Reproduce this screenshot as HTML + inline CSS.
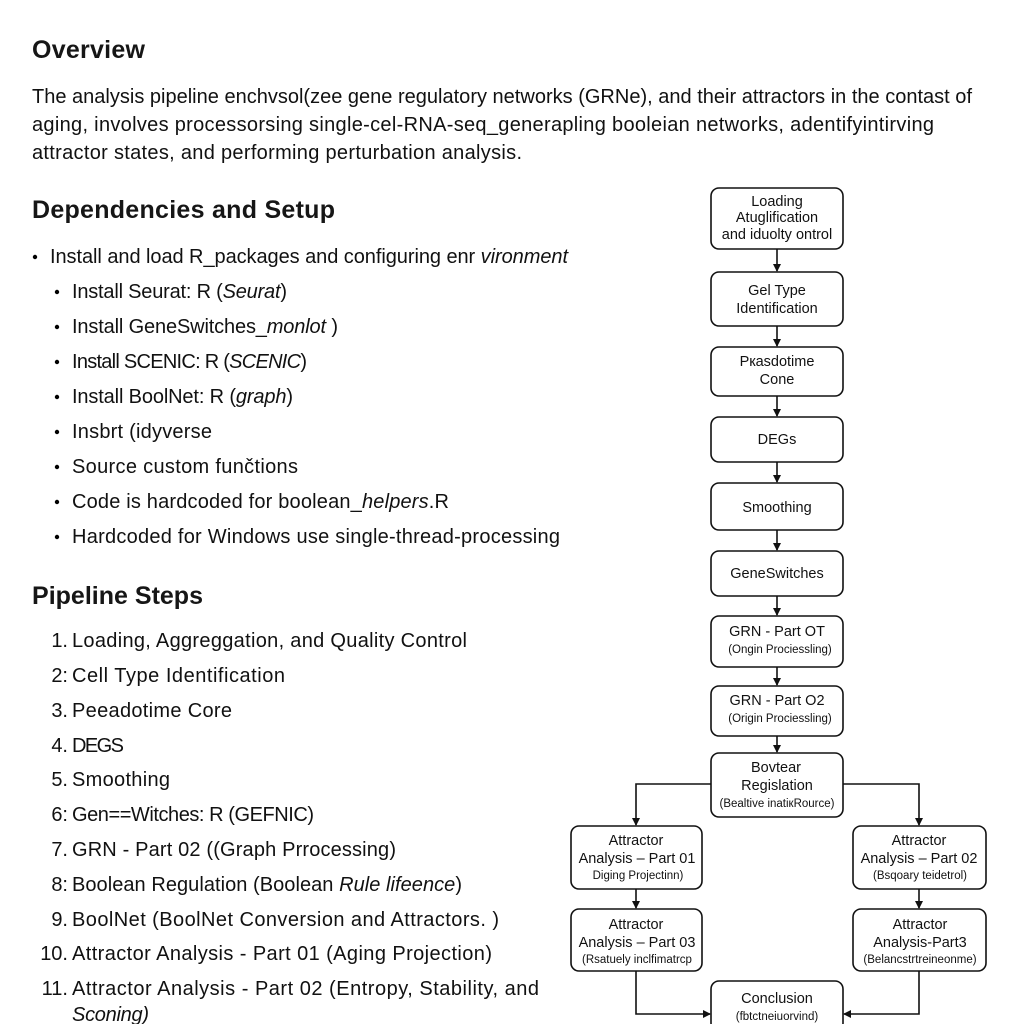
<!DOCTYPE html>
<html><head><meta charset="utf-8"><style>
html,body{margin:0;padding:0;background:#fff;}
svg{display:block;}
text{font-family:"Liberation Sans",sans-serif;fill:#111;}
.h{font-size:25px;font-weight:bold;fill:#161616;}
.b{font-size:20px;}
.n{font-size:14.5px;text-anchor:middle;}
.s{font-size:11.5px;text-anchor:middle;}
rect{fill:#fff;stroke:#111;stroke-width:1.6;}
.l{fill:none;stroke:#111;stroke-width:1.6;}
</style></head><body>
<svg width="1024" height="1024" viewBox="0 0 1024 1024" xmlns="http://www.w3.org/2000/svg">
<defs><marker id="a" markerWidth="8" markerHeight="8" refX="7" refY="4" orient="auto" markerUnits="userSpaceOnUse"><path d="M0,0 L8,4 L0,8 z" fill="#111"/></marker></defs>

<text class="h" x="32" y="58" textLength="113">Overview</text>
<text class="b" x="32" y="103" textLength="940">The analysis pipeline enchvsol(zee gene regulatory networks (GRNe), and their attractors in the contast of</text>
<text class="b" x="32" y="131" textLength="902">aging, involves processorsing single-cel-RNA-seq_generapling booleian networks, adentifyintirving</text>
<text class="b" x="32" y="159" textLength="490">attractor states, and performing perturbation analysis.</text>

<text class="h" x="32" y="218" textLength="303">Dependencies and Setup</text>
<g class="b">
<circle cx="35" cy="257" r="2.2"/>
<text class="b" x="50" y="263" textLength="518">Install and load R_packages and configuring enr <tspan font-style="italic">vironment</tspan></text>
<circle cx="57" cy="292" r="2.2"/><text class="b" x="72" y="298" textLength="215">Install Seurat: R (<tspan font-style="italic">Seurat</tspan>)</text>
<circle cx="57" cy="327" r="2.2"/><text class="b" x="72" y="333" textLength="266">Install GeneSwitches_<tspan font-style="italic">monlot</tspan> )</text>
<circle cx="57" cy="362" r="2.2"/><text class="b" x="72" y="368" textLength="235">Install SCENIC: R (<tspan font-style="italic">SCENIC</tspan>)</text>
<circle cx="57" cy="397" r="2.2"/><text class="b" x="72" y="403" textLength="221">Install BoolNet: R (<tspan font-style="italic">graph</tspan>)</text>
<circle cx="57" cy="432" r="2.2"/><text class="b" x="72" y="438" textLength="140">Insbrt (idyverse</text>
<circle cx="57" cy="467" r="2.2"/><text class="b" x="72" y="473" textLength="226">Source custom funčtions</text>
<circle cx="57" cy="502" r="2.2"/><text class="b" x="72" y="508" textLength="377">Code is hardcoded for boolean_<tspan font-style="italic">helpers</tspan>.R</text>
<circle cx="57" cy="537" r="2.2"/><text class="b" x="72" y="543" textLength="488">Hardcoded for Windows use single-thread-processing</text>
</g>

<text class="h" x="32" y="604" textLength="171">Pipeline Steps</text>
<text class="b" x="68" y="647" text-anchor="end">1.</text>
<text class="b" x="68" y="682" text-anchor="end">2:</text>
<text class="b" x="68" y="717" text-anchor="end">3.</text>
<text class="b" x="68" y="752" text-anchor="end">4.</text>
<text class="b" x="68" y="786" text-anchor="end">5.</text>
<text class="b" x="68" y="821" text-anchor="end">6:</text>
<text class="b" x="68" y="856" text-anchor="end">7.</text>
<text class="b" x="68" y="891" text-anchor="end">8:</text>
<text class="b" x="68" y="926" text-anchor="end">9.</text>
<text class="b" x="68" y="960" text-anchor="end">10.</text>
<text class="b" x="68" y="995" text-anchor="end">11.</text>
<text class="b" x="72" y="647" textLength="395">Loading, Aggreggation, and Quality Control</text>
<text class="b" x="72" y="682" textLength="213">Cell Type Identification</text>
<text class="b" x="72" y="717" textLength="160">Peeadotime Core</text>
<text class="b" x="72" y="752" textLength="52">DEGS</text>
<text class="b" x="72" y="786" textLength="98">Smoothing</text>
<text class="b" x="72" y="821" textLength="242">Gen==Witches: R (GEFNIC)</text>
<text class="b" x="72" y="856" textLength="324">GRN - Part 02 ((Graph Prrocessing)</text>
<text class="b" x="72" y="891" textLength="390">Boolean Regulation (Boolean <tspan font-style="italic">Rule lifeence</tspan>)</text>
<text class="b" x="72" y="926" textLength="427">BoolNet (BoolNet Conversion and Attractors. )</text>
<text class="b" x="72" y="960" textLength="420">Attractor Analysis - Part 01 (Aging Projection)</text>
<text class="b" x="72" y="995" textLength="467">Attractor Analysis - Part 02 (Entropy, Stability, and</text>
<text class="b" x="72" y="1021" font-style="italic" textLength="77">Sconing)</text>

<rect x="711" y="188" width="132" height="61" rx="8"/>
<text class="n" x="777" y="206">Loading</text>
<text class="n" x="777" y="222">Atuglification</text>
<text class="n" x="777" y="239">and iduolty ontrol</text>
<rect x="711" y="272" width="132" height="54" rx="8"/>
<text class="n" x="777" y="295" font-size="15.5">Gel Type</text>
<text class="n" x="777" y="313" font-size="15.5">Identification</text>
<rect x="711" y="347" width="132" height="49" rx="8"/>
<text class="n" x="777" y="366">Pкasdotime</text>
<text class="n" x="777" y="384">Cone</text>
<rect x="711" y="417" width="132" height="45" rx="8"/>
<text class="n" x="777" y="444">DEGs</text>
<rect x="711" y="483" width="132" height="47" rx="8"/>
<text class="n" x="777" y="512">Smoothing</text>
<rect x="711" y="551" width="132" height="45" rx="8"/>
<text class="n" x="777" y="578">GeneSwitches</text>
<rect x="711" y="616" width="132" height="51" rx="8"/>
<text class="n" x="777" y="636">GRN - Part OT</text>
<text class="s" x="780" y="653">(Ongin Prociessling)</text>
<rect x="711" y="686" width="132" height="50" rx="8"/>
<text class="n" x="777" y="705">GRN - Part O2</text>
<text class="s" x="780" y="722">(Origin Prociessling)</text>
<rect x="711" y="753" width="132" height="64" rx="8"/>
<text class="n" x="776" y="772">Bovtear</text>
<text class="n" x="777" y="790" font-size="15.5">Regislation</text>
<text class="s" x="777" y="807">(Bealtive inatiкRource)</text>

<rect x="571" y="826" width="131" height="63" rx="8"/>
<text class="n" x="636" y="845">Attractor</text>
<text class="n" x="637" y="863">Analysis – Part 01</text>
<text class="s" x="638" y="879">Diging Projectinn)</text>
<rect x="853" y="826" width="133" height="63" rx="8"/>
<text class="n" x="919" y="845">Attractor</text>
<text class="n" x="919" y="863">Analysis – Part 02</text>
<text class="s" x="920" y="879">(Bsqoary teidetrol)</text>
<rect x="571" y="909" width="131" height="62" rx="8"/>
<text class="n" x="636" y="929">Attractor</text>
<text class="n" x="637" y="947">Analysis – Part 03</text>
<text class="s" x="637" y="963">(Rsatuely inclfimatrcp</text>
<rect x="853" y="909" width="133" height="62" rx="8"/>
<text class="n" x="920" y="929">Attractor</text>
<text class="n" x="920" y="947">Analysis-Part3</text>
<text class="s" x="920" y="963">(Belancstrtreineonme)</text>
<rect x="711" y="981" width="132" height="50" rx="8"/>
<text class="n" x="777" y="1003">Conclusion</text>
<text class="s" x="777" y="1020">(fbtctneiuorvind)</text>

<g class="l">
<path d="M777 249 V271" marker-end="url(#a)"/>
<path d="M777 326 V346" marker-end="url(#a)"/>
<path d="M777 396 V416" marker-end="url(#a)"/>
<path d="M777 462 V482" marker-end="url(#a)"/>
<path d="M777 530 V550" marker-end="url(#a)"/>
<path d="M777 596 V615" marker-end="url(#a)"/>
<path d="M777 667 V685" marker-end="url(#a)"/>
<path d="M777 736 V752" marker-end="url(#a)"/>
<path d="M711 784 H636 V825" marker-end="url(#a)"/>
<path d="M843 784 H919 V825" marker-end="url(#a)"/>
<path d="M636 889 V908" marker-end="url(#a)"/>
<path d="M919 889 V908" marker-end="url(#a)"/>
<path d="M636 971 V1014 H710" marker-end="url(#a)"/>
<path d="M919 971 V1014 H844" marker-end="url(#a)"/>
</g>
</svg>
</body></html>
